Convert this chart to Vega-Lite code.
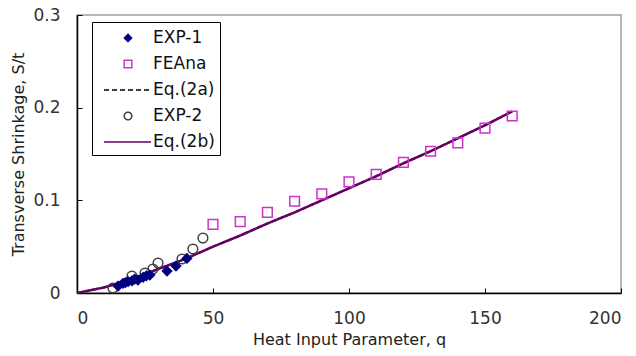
{
  "$schema": "https://vega.github.io/schema/vega-lite/v6.json",
  "width": 544,
  "height": 278,
  "autosize": {"type": "none"},
  "padding": {"left": 77, "top": 15, "right": 15, "bottom": 63},
  "background": "white",
  "config": {
    "font": "DejaVu Sans",
    "view": {"stroke": "#a0a0a0", "strokeWidth": 1.5},
    "axis": {
      "grid": false,
      "domainColor": "#000000",
      "domainWidth": 1.5,
      "tickColor": "#000000",
      "tickSize": -5,
      "tickWidth": 1,
      "labelFont": "DejaVu Sans",
      "labelFontSize": 17,
      "labelColor": "#333333",
      "titleFont": "DejaVu Sans",
      "titleFontSize": 16,
      "titleFontWeight": "normal",
      "titleColor": "#222222"
    },
    "legend": {
      "orient": "none",
      "legendX": 15,
      "legendY": 7,
      "strokeColor": "#000000",
      "strokeWidth": 1,
      "fillColor": "white",
      "padding": 5,
      "labelFont": "DejaVu Sans",
      "labelFontSize": 17,
      "labelColor": "#111111",
      "symbolSize": 400,
      "symbolOffset": 20,
      "labelOffset": 14,
      "rowPadding": 7,
      "symbolStrokeWidth": 1.5
    }
  },
  "datasets": {
    "points": [
      {"series": "EXP-2", "q": 13.2, "S": 0.0054},
      {"series": "EXP-2", "q": 20.2, "S": 0.0183},
      {"series": "EXP-2", "q": 25.0, "S": 0.0216},
      {"series": "EXP-2", "q": 27.9, "S": 0.0259},
      {"series": "EXP-2", "q": 29.8, "S": 0.0324},
      {"series": "EXP-2", "q": 38.6, "S": 0.0367},
      {"series": "EXP-2", "q": 42.6, "S": 0.0475},
      {"series": "EXP-2", "q": 46.3, "S": 0.0593},
      {"series": "EXP-1", "q": 15.1, "S": 0.0075},
      {"series": "EXP-1", "q": 16.9, "S": 0.0104},
      {"series": "EXP-1", "q": 17.8, "S": 0.0112},
      {"series": "EXP-1", "q": 18.8, "S": 0.0124},
      {"series": "EXP-1", "q": 20.2, "S": 0.0130},
      {"series": "EXP-1", "q": 21.2, "S": 0.0150},
      {"series": "EXP-1", "q": 22.4, "S": 0.0140},
      {"series": "EXP-1", "q": 24.3, "S": 0.0169},
      {"series": "EXP-1", "q": 25.5, "S": 0.0185},
      {"series": "EXP-1", "q": 26.8, "S": 0.0194},
      {"series": "EXP-1", "q": 33.1, "S": 0.0237},
      {"series": "EXP-1", "q": 36.4, "S": 0.0291},
      {"series": "EXP-1", "q": 40.4, "S": 0.0373},
      {"series": "FEAna", "q": 50, "S": 0.074},
      {"series": "FEAna", "q": 60, "S": 0.077},
      {"series": "FEAna", "q": 70, "S": 0.087},
      {"series": "FEAna", "q": 80, "S": 0.099},
      {"series": "FEAna", "q": 90, "S": 0.107},
      {"series": "FEAna", "q": 100, "S": 0.120},
      {"series": "FEAna", "q": 110, "S": 0.128},
      {"series": "FEAna", "q": 120, "S": 0.141},
      {"series": "FEAna", "q": 130, "S": 0.153},
      {"series": "FEAna", "q": 140, "S": 0.162},
      {"series": "FEAna", "q": 150, "S": 0.178},
      {"series": "FEAna", "q": 160, "S": 0.191}
    ],
    "eq2a": [
      {"series": "Eq.(2a)", "q": 0, "S": 0},
      {"series": "Eq.(2a)", "q": 10, "S": 0.006},
      {"series": "Eq.(2a)", "q": 20, "S": 0.015},
      {"series": "Eq.(2a)", "q": 30, "S": 0.026},
      {"series": "Eq.(2a)", "q": 40, "S": 0.037},
      {"series": "Eq.(2a)", "q": 50, "S": 0.050},
      {"series": "Eq.(2a)", "q": 60, "S": 0.062},
      {"series": "Eq.(2a)", "q": 70, "S": 0.075},
      {"series": "Eq.(2a)", "q": 80, "S": 0.087},
      {"series": "Eq.(2a)", "q": 90, "S": 0.100},
      {"series": "Eq.(2a)", "q": 100, "S": 0.113},
      {"series": "Eq.(2a)", "q": 110, "S": 0.126},
      {"series": "Eq.(2a)", "q": 120, "S": 0.140},
      {"series": "Eq.(2a)", "q": 130, "S": 0.153},
      {"series": "Eq.(2a)", "q": 140, "S": 0.167},
      {"series": "Eq.(2a)", "q": 150, "S": 0.181},
      {"series": "Eq.(2a)", "q": 160, "S": 0.196}
    ],
    "eq2b": [
      {"series": "Eq.(2b)", "q": 0, "S": 0},
      {"series": "Eq.(2b)", "q": 10, "S": 0.006},
      {"series": "Eq.(2b)", "q": 20, "S": 0.015},
      {"series": "Eq.(2b)", "q": 30, "S": 0.026},
      {"series": "Eq.(2b)", "q": 40, "S": 0.037},
      {"series": "Eq.(2b)", "q": 50, "S": 0.050},
      {"series": "Eq.(2b)", "q": 60, "S": 0.062},
      {"series": "Eq.(2b)", "q": 70, "S": 0.075},
      {"series": "Eq.(2b)", "q": 80, "S": 0.087},
      {"series": "Eq.(2b)", "q": 90, "S": 0.100},
      {"series": "Eq.(2b)", "q": 100, "S": 0.113},
      {"series": "Eq.(2b)", "q": 110, "S": 0.126},
      {"series": "Eq.(2b)", "q": 120, "S": 0.140},
      {"series": "Eq.(2b)", "q": 130, "S": 0.153},
      {"series": "Eq.(2b)", "q": 140, "S": 0.167},
      {"series": "Eq.(2b)", "q": 150, "S": 0.181},
      {"series": "Eq.(2b)", "q": 160, "S": 0.196}
    ]
  },
  "encoding": {
    "x": {
      "field": "q",
      "type": "quantitative",
      "scale": {"domain": [0, 200], "nice": false},
      "axis": {"values": [0, 50, 100, 150, 200], "format": "d", "title": "Heat Input Parameter,  q", "labelPadding": 22, "titlePadding": 5}
    },
    "y": {
      "field": "S",
      "type": "quantitative",
      "scale": {"domain": [0, 0.3], "nice": false},
      "axis": {"values": [0, 0.1, 0.2, 0.3], "format": "~g", "title": "Transverse Shrinkage, S/t", "labelPadding": 22, "titlePadding": 6}
    }
  },
  "layer": [
    {
      "data": {"name": "eq2a"},
      "mark": {"type": "line", "strokeWidth": 2},
      "encoding": {
        "stroke": {
          "field": "series", "type": "nominal",
          "scale": {"domain": ["EXP-1", "FEAna", "Eq.(2a)", "EXP-2", "Eq.(2b)"], "range": ["#00007f", "#cc33cc", "#000000", "#404040", "#660066"]},
          "legend": {"title": null}
        },
        "strokeDash": {
          "field": "series", "type": "nominal",
          "scale": {"domain": ["EXP-1", "FEAna", "Eq.(2a)", "EXP-2", "Eq.(2b)"], "range": [[1, 0], [1, 0], [5, 3], [1, 0], [1, 0]]},
          "legend": {"title": null}
        }
      }
    },
    {
      "data": {"name": "eq2b"},
      "mark": {"type": "line", "strokeWidth": 2.5},
      "encoding": {
        "stroke": {"field": "series", "type": "nominal", "legend": {"title": null}},
        "strokeDash": {"field": "series", "type": "nominal", "legend": {"title": null}}
      }
    },
    {
      "data": {"name": "points"},
      "mark": {"type": "point", "size": 650, "strokeWidth": 1.5, "opacity": 1},
      "encoding": {
        "shape": {
          "field": "series", "type": "nominal",
          "scale": {"domain": ["EXP-1", "FEAna", "Eq.(2a)", "EXP-2", "Eq.(2b)"], "range": ["M0,-0.36L0.36,0L0,0.36L-0.36,0Z", "M-0.38,-0.38H0.38V0.38H-0.38Z", "M-2.4,0H2.3", "M0.38,0A0.38,0.38,0,1,1,-0.38,0A0.38,0.38,0,1,1,0.38,0Z", "M-2.4,0H2.3"]},
          "legend": {"title": null}
        },
        "fill": {
          "field": "series", "type": "nominal",
          "scale": {"domain": ["EXP-1", "FEAna", "Eq.(2a)", "EXP-2", "Eq.(2b)"], "range": ["#00007f", "transparent", "transparent", "transparent", "transparent"]},
          "legend": {"title": null}
        },
        "stroke": {"field": "series", "type": "nominal", "legend": {"title": null}}
      }
    }
  ]
}
